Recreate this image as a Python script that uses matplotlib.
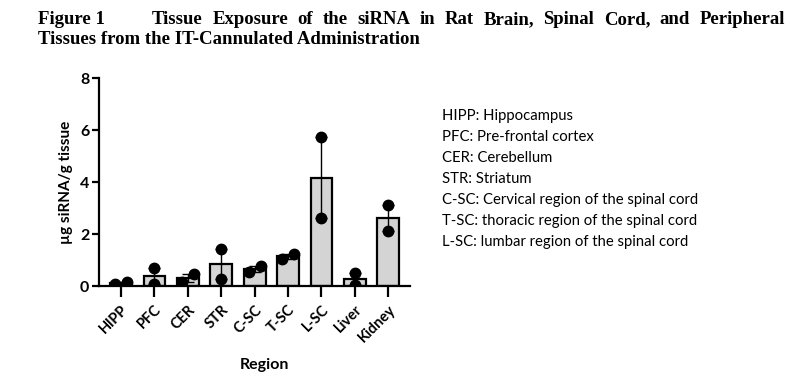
import numpy as np
import matplotlib.pyplot as plt

# 每个组织两个动物的数值 (µg siRNA/g tissue)
regions = ['HIPP', 'PFC', 'CER', 'STR', 'C-SC', 'T-SC', 'L-SC', 'Liver', 'Kidney']
rep1 = [0.08, 0.70, 0.17, 1.42, 0.52, 1.05, 5.73, 0.50, 3.10]
rep2 = [0.17, 0.06, 0.45, 0.27, 0.78, 1.22, 2.60, 0.02, 2.10]

legend_lines = [
    'HIPP: Hippocampus',
    'PFC: Pre-frontal cortex',
    'CER: Cerebellum',
    'STR: Striatum',
    'C-SC: Cervical region of the spinal cord',
    'T-SC: thoracic region of the spinal cord',
    'L-SC: lumbar region of the spinal cord',
]

title_head = 'Figure 1'
title_1 = 'Tissue Exposure of the siRNA in Rat Brain, Spinal Cord, and Peripheral'
title_2 = 'Tissues from the IT-Cannulated Administration'

W, H = 790, 377
fig = plt.figure(figsize=(W / 100, H / 100), dpi=100)
ax = fig.add_axes([99 / W, 1 - 286 / H, (410 - 99) / W, (286 - 78) / H])

pts = np.array([rep1, rep2])
mean = pts.mean(axis=0)
sem = pts.std(axis=0, ddof=1) / np.sqrt(2)
x = np.arange(len(regions))

ax.bar(x, mean, width=0.65, color='#d4d4d4', edgecolor='black', linewidth=1.6, zorder=2)
ax.errorbar(x, mean, yerr=sem, fmt='none', ecolor='black', elinewidth=1.0,
            capsize=4, capthick=1.0, zorder=3)

# 两点数值接近时左右错开 (GraphPad 风格)
for i in range(len(regions)):
    a, b = rep1[i], rep2[i]
    if abs(a - b) < 0.4:
        xs = [x[i] - 0.18, x[i] + 0.18] if a < b else [x[i] + 0.18, x[i] - 0.18]
    else:
        xs = [x[i], x[i]]
    ax.plot(xs, [a, b], 'o', color='black', markersize=7.5, zorder=4, linestyle='none')

ax.set_xlim(-0.66, 8.65)
ax.set_ylim(0, 8)
ax.set_yticks([0, 2, 4, 6, 8])
ax.set_xticks(x)
ax.set_xticklabels(regions, rotation=45, ha='right', rotation_mode='anchor',
                   fontsize=10.5, family='Lato', fontweight='bold')
for lab in ax.get_yticklabels():
    lab.set_family('Lato')
    lab.set_fontweight('bold')
    lab.set_fontsize(11.5)
ax.spines['top'].set_visible(False)
ax.spines['right'].set_visible(False)
ax.spines['left'].set_linewidth(1.6)
ax.spines['bottom'].set_linewidth(1.6)
ax.tick_params(axis='y', length=5, width=1.6, pad=2)
ax.tick_params(axis='x', length=8, width=1.6, pad=4)

ax.set_ylabel('µg siRNA/g tissue', family='Lato', fontweight='bold', fontsize=11, labelpad=5)
fig.text(264 / W, 1 - 365 / H, 'Region', family='Lato', fontweight='bold', fontsize=11.5,
         ha='center', va='center')

for k, line in enumerate(legend_lines):
    fig.text(442 / W, 1 - (116 + 21 * k) / H, line, family='Lato', fontsize=10.7,
             ha='left', va='center')

tkw = dict(family='Liberation Serif', fontweight='bold', fontsize=13.5, va='center')
fig.text(38 / W, 1 - 20 / H, title_head, ha='left', **tkw)
fig.text(38 / W, 1 - 39 / H, title_2, ha='left', **tkw)

# 第一行两端对齐: 逐词放置
words = title_1.split()
renderer = fig.canvas.get_renderer()
objs = [fig.text(0, 1 - 20 / H, w, ha='left', **tkw) for w in words]
widths = [o.get_window_extent(renderer).width for o in objs]
x0, x1 = 152, 785
gap = (x1 - x0 - sum(widths)) / (len(words) - 1)
xp = x0
for o, w in zip(objs, widths):
    o.set_x(xp / W)
    xp += w + gap

fig.savefig('out.png', dpi=100)
